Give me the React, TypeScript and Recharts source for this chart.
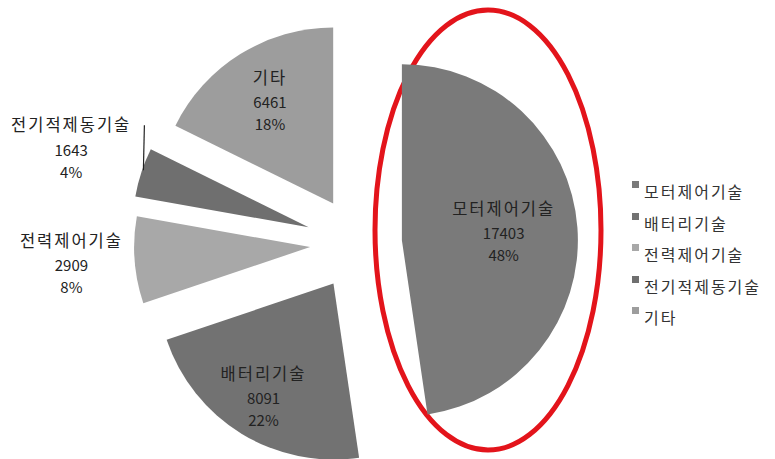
import { PieChart, Pie, Cell, Sector, Legend, Customized } from "recharts"

const NAMES = ["모터제어기술", "배터리기술", "전력제어기술", "전기적제동기술", "기타"]
const VALUES = [17403, 8091, 2909, 1643, 6461]
const PERCENTS = ["48%", "22%", "8%", "4%", "18%"]

const COLORS = ["#7a7a7a", "#727272", "#a8a8a8", "#6f6f6f", "#9d9d9d"]
// how far each slice is pulled out, px
const EXPLODE = [44, 47, 48, 52, 47]
// label distance from slice apex, as a fraction of the radius
const LABEL_R = [0.58, 0.76, 1.36, 1.42, 0.68]

const FONT = "'Noto Sans CJK KR', 'Noto Sans', sans-serif"
const RAD = Math.PI / 180

const data = NAMES.map((name, i) => ({ name, value: VALUES[i] }))

const offset = (angle: number, d: number) => ({
  dx: d * Math.cos(-angle * RAD),
  dy: d * Math.sin(-angle * RAD),
})

function ExplodedSector(props: any) {
  const { dx, dy } = offset(props.midAngle, EXPLODE[props.index] ?? 0)
  return <Sector {...props} cx={props.cx + dx} cy={props.cy + dy} stroke="none" />
}

function SliceLabel(props: any) {
  const { cx, cy, midAngle, outerRadius, index } = props
  const { dx, dy } = offset(midAngle, EXPLODE[index])
  const ax = cx + dx
  const ay = cy + dy
  const r = LABEL_R[index] * outerRadius
  const x = ax + r * Math.cos(-midAngle * RAD)
  const y = ay + r * Math.sin(-midAngle * RAD)
  // small leader line for the thin slice
  const edgeX = ax + outerRadius * Math.cos(-midAngle * RAD)
  const edgeY = ay + outerRadius * Math.sin(-midAngle * RAD)
  return (
    <g fontFamily={FONT} fill="#222" textAnchor="middle">
      <text x={x} y={y - 25} fontSize={16.5} style={{ letterSpacing: "2px" }} dominantBaseline="central">
        {NAMES[index]}
      </text>
      <text x={x} y={y} fontSize={15} dominantBaseline="central">
        {VALUES[index]}
      </text>
      <text x={x} y={y + 22} fontSize={15} dominantBaseline="central">
        {PERCENTS[index]}
      </text>
      {index === 3 && (
        <line x1={edgeX + 3} y1={y - 24} x2={edgeX + 2} y2={edgeY - 2} stroke="#222" strokeWidth={1.2} />
      )}
    </g>
  )
}

function LegendBox() {
  return (
    <div style={{ fontFamily: FONT, fontSize: 16, color: "#333" }}>
      {NAMES.map((name, i) => (
        <div key={name} style={{ position: "relative", height: 31.5, lineHeight: "32px" }}>
          <span
            style={{
              position: "absolute",
              left: 7,
              top: 6,
              width: 7,
              height: 7,
              background: COLORS[i],
            }}
          />
          <span style={{ position: "absolute", left: 19, letterSpacing: "2px", whiteSpace: "nowrap" }}>
            {name}
          </span>
        </div>
      ))}
    </div>
  )
}

export default function App() {
  return (
    <div style={{ position: "absolute", left: 0, top: 0, width: 775, height: 459, background: "#fff" }}>
      <PieChart width={775} height={459} margin={{ top: 0, right: 0, bottom: 0, left: 0 }}>
        <Pie
          data={data}
          dataKey="value"
          nameKey="name"
          cx={358}
          cy={243.5}
          outerRadius={176}
          startAngle={90}
          endAngle={-270}
          stroke="none"
          shape={ExplodedSector}
          activeShape={ExplodedSector}
          label={SliceLabel}
          labelLine={false}
          isAnimationActive={false}
        >
          {data.map((d, i) => (
            <Cell key={d.name} fill={COLORS[i]} />
          ))}
        </Pie>
        <Legend
          layout="vertical"
          content={<LegendBox />}
          wrapperStyle={{ left: 625, top: 175, width: 150 }}
        />
        {/* red highlight round the motor slice */}
        <Customized
          component={() => (
            <ellipse cx={488} cy={230} rx={113} ry={220} fill="none" stroke="#e3141b" strokeWidth={5} />
          )}
        />
      </PieChart>
    </div>
  )
}
